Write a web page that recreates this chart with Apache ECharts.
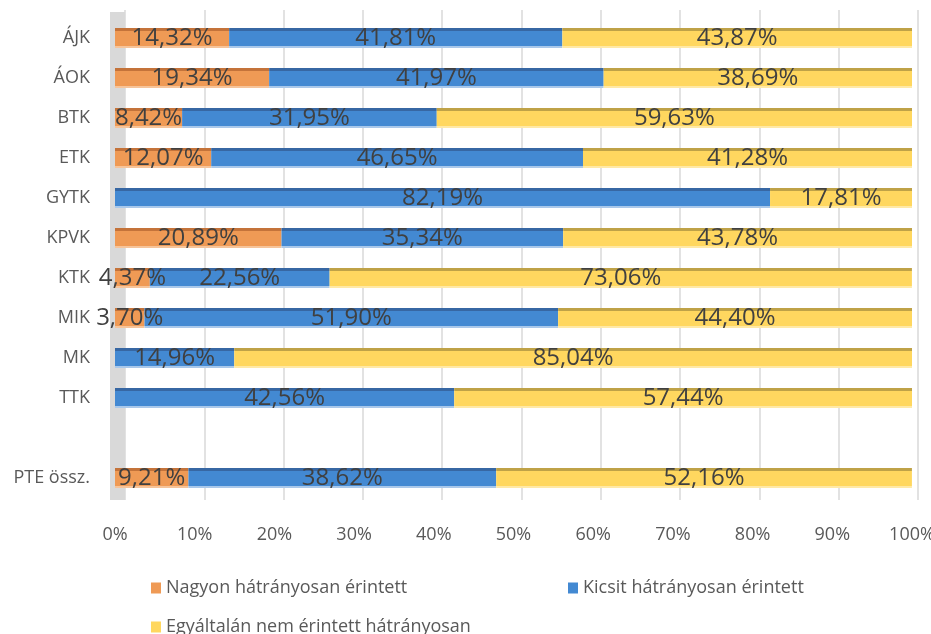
<!DOCTYPE html>
<html>
<head>
<meta charset="utf-8">
<script src="https://cdn.jsdelivr.net/npm/echarts@6/dist/echarts.min.js"></script>
<style>
html,body{margin:0;padding:0;background:#fff;}
#chart{width:931px;height:634px;}
</style>
</head>
<body>
<div id="chart"></div>
<script>
var categories = ['ÁJK', 'ÁOK', 'BTK', 'ETK', 'GYTK', 'KPVK', 'KTK', 'MIK', 'MK', 'TTK', '', 'PTE össz.'];
var nagyon = [14.32, 19.34, 8.42, 12.07, 0, 20.89, 4.37, 3.70, 0, 0, '-', 9.21];
var kicsit = [41.81, 41.97, 31.95, 46.65, 82.19, 35.34, 22.56, 51.90, 14.96, 42.56, '-', 38.62];
var egyaltalan = [43.87, 38.69, 59.63, 41.28, 17.81, 43.78, 73.06, 44.40, 85.04, 57.44, '-', 52.16];
var tickLabels = ['0%', '10%', '20%', '30%', '40%', '50%', '60%', '70%', '80%', '90%', '100%'];

var names = ['Nagyon hátrányosan érintett', 'Kicsit hátrányosan érintett', 'Egyáltalán nem érintett hátrányosan'];

// fake 3D look: darker top face, light bottom edge
function face(top, main, bottom){
	return {
		type: 'linear', x: 0, y: 0, x2: 0, y2: 1,
		colorStops: [
			{offset: 0, color: top}, {offset: 0.15, color: top},
			{offset: 0.15, color: main}, {offset: 0.9, color: main},
			{offset: 0.9, color: bottom}, {offset: 1, color: bottom}
		]
	};
}

function pct(p){
	if (!p.value) return '';
	return p.value.toFixed(2).replace('.', ',') + '%';
}

function makeSeries(name, data, col){
	return {
		name: name,
		type: 'bar',
		stack: 'all',
		xAxisIndex: 1,
		yAxisIndex: 1,
		barWidth: 20,
		data: data,
		itemStyle: {color: col},
		label: {
			show: true,
			position: 'inside',
			color: '#404040',
			fontFamily: 'Open Sans',
			fontSize: 24,
			formatter: pct
		}
	};
}

var myChart = echarts.init(document.getElementById('chart'));

var hidden = {axisLine: {show: false}, axisTick: {show: false}, axisLabel: {show: false}, splitLine: {show: false}};

var option = {
	animation: false,
	grid: [
		// back wall gridlines
		{left: 125, right: 13, top: 10, bottom: 134, outerBoundsMode: 'none', containLabel: false},
		// bars
		{left: 115, right: 19, top: 18, bottom: 136, outerBoundsMode: 'none', containLabel: false},
		// grey side wall
		{left: 117.5, right: 13, top: 12, bottom: 134, outerBoundsMode: 'none', containLabel: false}
	],
	xAxis: [
		{
			gridIndex: 0, type: 'value', min: 0, max: 100, interval: 10,
			axisLine: {show: false}, axisTick: {show: false}, axisLabel: {show: false},
			splitLine: {lineStyle: {color: '#d9d9d9', width: 1.5}}
		},
		{
			gridIndex: 1, type: 'value', min: 0, max: 100, interval: 10,
			axisLine: {show: false}, axisTick: {show: false}, splitLine: {show: false},
			axisLabel: {
				color: '#595959', fontFamily: 'Open Sans', fontSize: 18, margin: 28,
				formatter: function(v){ return tickLabels[Math.round(v / 10)]; }
			}
		},
		Object.assign({gridIndex: 2, type: 'value', min: 0, max: 100}, hidden)
	],
	yAxis: [
		Object.assign({gridIndex: 0, type: 'category', data: categories, inverse: true}, hidden),
		{
			gridIndex: 1, type: 'category', data: categories, inverse: true,
			axisLine: {show: false}, axisTick: {show: false},
			axisLabel: {color: '#595959', fontFamily: 'Open Sans', fontSize: 18, margin: 25}
		},
		{
			gridIndex: 2, type: 'category', data: categories, inverse: true,
			axisLine: {show: true, lineStyle: {color: '#d9d9d9', width: 15, cap: 'butt'}},
			axisTick: {show: false}, axisLabel: {show: false}, splitLine: {show: false}
		}
	],
	legend: [
		{
			left: 146, top: 574, itemWidth: 10, itemHeight: 11, icon: 'rect',
			textStyle: {color: '#595959', fontFamily: 'Open Sans', fontSize: 18},
			data: [{name: names[0], itemStyle: {color: '#ef9a55'}}]
		},
		{
			left: 563, top: 574, itemWidth: 10, itemHeight: 11, icon: 'rect',
			textStyle: {color: '#595959', fontFamily: 'Open Sans', fontSize: 18},
			data: [{name: names[1], itemStyle: {color: '#4389d2'}}]
		},
		{
			left: 146, top: 613, itemWidth: 10, itemHeight: 11, icon: 'rect',
			textStyle: {color: '#595959', fontFamily: 'Open Sans', fontSize: 18},
			data: [{name: names[2], itemStyle: {color: '#ffd75f'}}]
		}
	],
	series: [
		makeSeries(names[0], nagyon, face('#c4733a', '#ef9a55', '#f6c49a')),
		makeSeries(names[1], kicsit, face('#3767a3', '#4389d2', '#a9c8ea')),
		makeSeries(names[2], egyaltalan, face('#bfa247', '#ffd75f', '#ffe9a6'))
	]
};

myChart.setOption(option);
</script>
</body>
</html>
